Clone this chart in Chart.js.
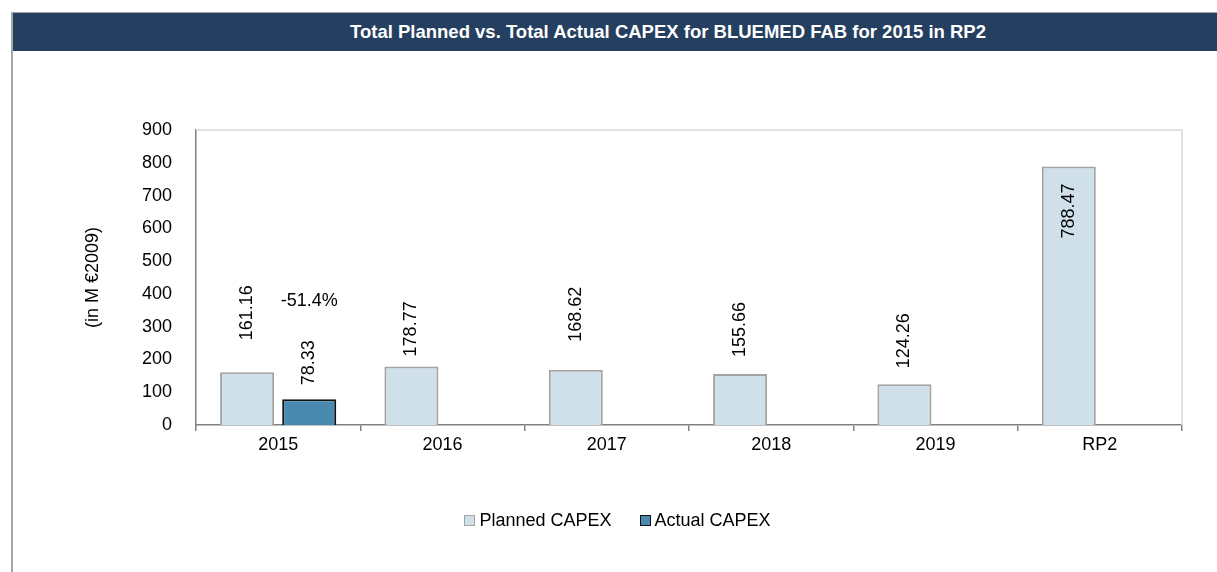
<!DOCTYPE html>
<html>
<head>
<meta charset="utf-8">
<script src="https://cdn.jsdelivr.net/npm/chart.js@4/dist/chart.umd.min.js"></script>
<style>
  html, body { margin: 0; padding: 0; background: #fff; }
  body { width: 1217px; height: 572px; position: relative; overflow: hidden; font-family: "Liberation Sans", Arial, sans-serif; }
  #frame { position: absolute; left: 11px; top: 12px; right: -10px; bottom: -10px; border-left: 2px solid #a6a6a6; border-top: 1px solid #a6a6a6; }
  #header { position: absolute; left: 0; top: 0; right: 0; height: 38px; background: #243f5f; color: #fff; font-weight: bold; font-size: 18.5px; line-height: 38px; text-align: center; padding-left: 96px; box-sizing: border-box; white-space: nowrap; }
  #wrap { position: absolute; left: 12px; top: 50px; width: 1205px; height: 522px; }
  #legend { position: absolute; left: 12px; width: 1205px; top: 509px; height: 22px; display: flex; justify-content: center; align-items: center; font-size: 18px; color: #000; padding-left: 6px; box-sizing: border-box; }
  #legend .item { display: flex; align-items: center; margin: 0 14px; }
  #legend .box { width: 9px; height: 9px; margin-right: 4px; }
</style>
</head>
<body>
<div id="frame"><div id="header">Total Planned vs. Total Actual CAPEX for BLUEMED FAB for 2015 in RP2</div></div>
<div id="wrap"><canvas id="capexChart"></canvas></div>
<div id="legend"></div>
<script>
// data
const categories = ["2015", "2016", "2017", "2018", "2019", "RP2"];
const plannedCapex = [161.16, 178.77, 168.62, 155.66, 124.26, 788.47];
const actualCapex = [78.33, null, null, null, null, null];
const yTicks = [0, 100, 200, 300, 400, 500, 600, 700, 800, 900];

const FONT = "'Liberation Sans', Arial, sans-serif";

// gap between bar top and label (labels were hand placed in the original)
const plannedGap = [32, 10, 28, 17, 16, -17];
const actualGap = [14];

const valueLabels = {
  id: "valueLabels",
  afterDatasetsDraw(chart) {
    const ctx = chart.ctx;
    const yScale = chart.scales.y;
    ctx.save();
    ctx.fillStyle = "#000";
    ctx.font = "18px " + FONT;
    ctx.textBaseline = "middle";
    [plannedGap, actualGap].forEach((gaps, di) => {
      const meta = chart.getDatasetMeta(di);
      meta.data.forEach((bar, i) => {
        const v = chart.data.datasets[di].data[i];
        if (v == null) return;
        const gap = gaps[i];
        ctx.save();
        ctx.translate(bar.x, bar.y - gap);
        ctx.rotate(-Math.PI / 2);
        ctx.textAlign = gap < 0 ? "right" : "left";
        ctx.fillText(v.toFixed(2), 0, 0);
        ctx.restore();
      });
    });
    // variance of actual vs planned for 2015
    const diff = (actualCapex[0] - plannedCapex[0]) / plannedCapex[0] * 100;
    const aBar = chart.getDatasetMeta(1).data[0];
    ctx.textAlign = "center";
    ctx.fillText(diff.toFixed(1) + "%", aBar.x, yScale.getPixelForValue(actualCapex[0]) - 98);
    ctx.restore();
  }
};

const plotFrame = {
  id: "plotFrame",
  beforeDatasetsDraw(chart) {
    const { ctx, chartArea: a } = chart;
    ctx.save();
    ctx.strokeStyle = "#d9d9d9";
    ctx.lineWidth = 1.5;
    ctx.beginPath();
    ctx.moveTo(a.left, a.top);
    ctx.lineTo(a.right, a.top);
    ctx.lineTo(a.right, a.bottom);
    ctx.stroke();
    ctx.restore();
  }
};

const chart = new Chart(document.getElementById("capexChart"), {
  type: "bar",
  data: {
    labels: categories,
    datasets: [
      {
        label: "Planned CAPEX",
        data: plannedCapex,
        backgroundColor: "#cfe0ea",
        borderColor: "#a3a3a3",
        borderWidth: 2,
        categoryPercentage: 0.756,
        barPercentage: 0.87,
      },
      {
        label: "Actual CAPEX",
        data: actualCapex,
        backgroundColor: "#4a8ab0",
        borderColor: "#111",
        borderWidth: 2,
        categoryPercentage: 0.756,
        barPercentage: 0.87,
      },
    ],
  },
  plugins: [plotFrame, valueLabels],
  options: {
    responsive: true,
    maintainAspectRatio: false,
    animation: false,
    layout: { padding: { top: 80, right: 35, bottom: 117, left: 0 } },
    plugins: {
      tooltip: { enabled: false },
      legend: { display: false },
    },
    scales: {
      x: {
        afterFit(scale) { scale.height = 30; },
        grid: { offset: true, drawOnChartArea: false, drawTicks: true, tickLength: 6, color: "#808080", lineWidth: 1.5 },
        border: { color: "#808080", width: 1.5 },
        ticks: { font: { family: FONT, size: 18 }, color: "#000", padding: 3 },
      },
      y: {
        min: yTicks[0],
        max: yTicks[yTicks.length - 1],
        afterFit(scale) { scale.width = 184; },
        afterBuildTicks(scale) { scale.ticks = yTicks.map((v) => ({ value: v })); },
        grid: { display: false },
        border: { color: "#808080", width: 1.5 },
        ticks: { font: { family: FONT, size: 18 }, color: "#000", padding: 16 },
        title: { display: true, text: "(in M €2009)", font: { family: FONT, size: 18 }, color: "#000", padding: { top: 70, bottom: 0 } },
      },
    },
  },
});

// legend built from the datasets
const legend = document.getElementById("legend");
chart.data.datasets.forEach((ds) => {
  const item = document.createElement("div");
  item.className = "item";
  const box = document.createElement("span");
  box.className = "box";
  box.style.background = ds.backgroundColor;
  box.style.border = "1.5px solid " + ds.borderColor;
  item.appendChild(box);
  item.appendChild(document.createTextNode(ds.label));
  legend.appendChild(item);
});
</script>
</body>
</html>
